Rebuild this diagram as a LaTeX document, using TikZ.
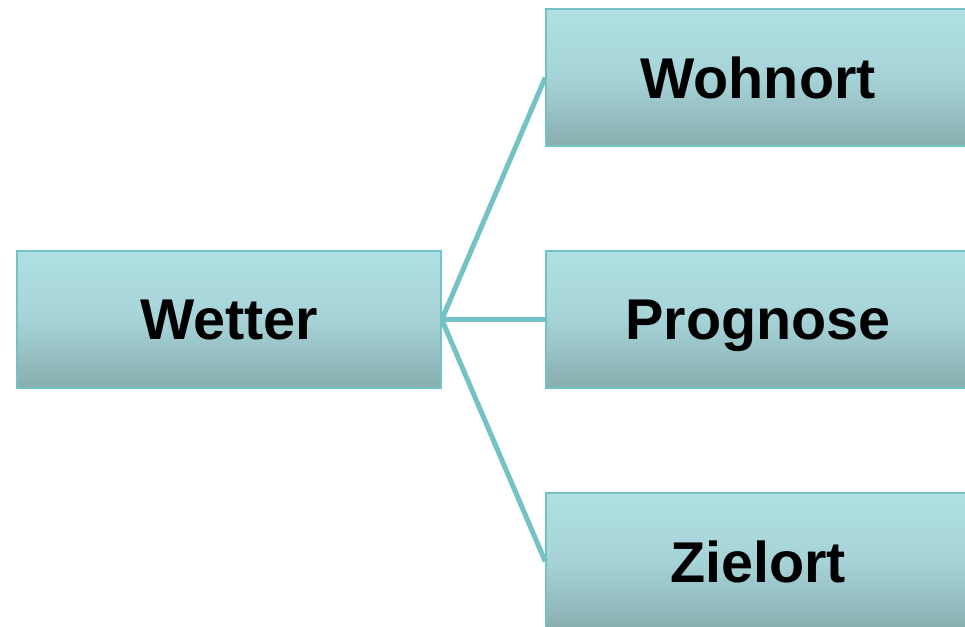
\documentclass[tikz,border=0pt]{standalone}
\usepackage{fontspec}
\setmainfont{Liberation Sans}
\definecolor{topc}{HTML}{B0E0E4}
\definecolor{midc}{HTML}{A6D3D7}
\definecolor{botc}{HTML}{88AEAF}
\definecolor{edgec}{HTML}{72C2C6}
\begin{document}
\begin{tikzpicture}[x=1pt,y=-1pt,
  boxs/.style={draw=edgec,line width=1.5pt,rectangle,minimum width=424pt,minimum height=137pt,
    inner sep=0pt,text depth=0pt,top color=topc,bottom color=botc,middle color=midc,
    font=\fontsize{57.5}{60}\selectfont\bfseries},
  conn/.style={draw=edgec,line width=5pt}]
\useasboundingbox (0,0) rectangle (965,626);
\clip (0,0) rectangle (965,626);
\fill[white] (0,0) rectangle (965,626);
\node[boxs] (wetter) at (229,319.5) {Wetter};
\node[boxs] (wohnort) at (758,77.5) {Wohnort};
\node[boxs] (prognose) at (758,319.5) {Prognose};
\node[boxs] (zielort) at (758,561.5) {Zielort};
\draw[conn] (wetter.east) -- (wohnort.west);
\draw[conn] (wetter.east) -- (prognose.west);
\draw[conn] (wetter.east) -- (zielort.west);
\end{tikzpicture}
\end{document}
